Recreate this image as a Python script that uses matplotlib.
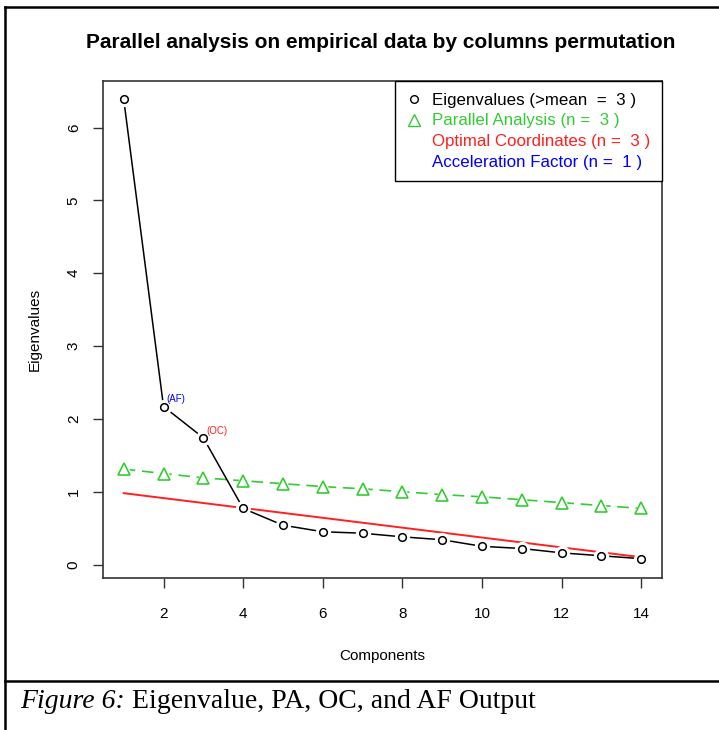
import matplotlib.pyplot as plt
from matplotlib.lines import Line2D

# dados
componentes = list(range(1, 15))
autovalores = [6.39, 2.17, 1.74, 0.77, 0.54, 0.45, 0.43, 0.38, 0.34, 0.25, 0.22, 0.16, 0.12, 0.08]
paralela = [1.31, 1.25, 1.19, 1.15, 1.11, 1.07, 1.04, 1.00, 0.96, 0.93, 0.89, 0.85, 0.81, 0.77]
oc_x = [1, 14]
oc_y = [0.98, 0.10]

legendas = ['Eigenvalues (>mean  =  3 )', 'Parallel Analysis (n =  3 )',
            'Optimal Coordinates (n =  3 )', 'Acceleration Factor (n =  1 )']
cores = ['black', '#33cc33', '#ff2020', '#0000ff']

plt.rcParams['font.family'] = ['Liberation Sans', 'DejaVu Sans']

fig = plt.figure(figsize=(7.19, 7.30), dpi=100)
ax = fig.add_axes([103 / 719, 1 - 578 / 730, 559 / 719, 497 / 730])

# linha vermelha (OC)
ax.plot(oc_x, oc_y, color=cores[2], lw=1.4, zorder=2)

# analise paralela, tipo "b" do R (linha com buracos nos pontos)
ax.plot(componentes, paralela, color=cores[1], lw=1.2, dashes=(7, 4), zorder=3)
ax.plot(componentes, paralela, ls='none', marker='^', ms=14, mfc='white', mec='none', zorder=4)
ax.plot(componentes, paralela, ls='none', marker='^', ms=9, mfc='none', mec=cores[1], mew=1.2, zorder=5)

# autovalores
ax.plot(componentes, autovalores, color='black', lw=1.1, zorder=6)
ax.plot(componentes, autovalores, ls='none', marker='o', ms=11, mfc='white', mec='none', zorder=7)
ax.plot(componentes, autovalores, ls='none', marker='o', ms=5.5, mfc='white', mec='black', mew=1.1, zorder=8)

ax.text(componentes[1] + 0.08, autovalores[1] + 0.03, '(AF)', color=cores[3], fontsize=7, va='bottom', ha='left', zorder=9)
ax.text(componentes[2] + 0.08, autovalores[2] + 0.03, '(OC)', color=cores[2], fontsize=7, va='bottom', ha='left', zorder=9)

ax.set_xlim(0.48, 14.52)
ax.set_ylim(-0.185, 6.64)
ax.set_xticks([2, 4, 6, 8, 10, 12, 14])
ax.set_yticks([0, 1, 2, 3, 4, 5, 6])
ax.tick_params(direction='out', length=7, width=1, labelsize=11, color='#333333')
ax.tick_params(axis='x', pad=14)
ax.tick_params(axis='y', pad=9)
plt.setp(ax.get_yticklabels(), rotation=90, va='center')
for s in ax.spines.values():
    s.set_color('#333333')
    s.set_linewidth(1.2)

ax.set_xlabel('Components', fontsize=11, labelpad=20)
ax.set_ylabel('Eigenvalues', fontsize=11, labelpad=18)

# legenda
alcas = [Line2D([], [], ls='none', marker='o', ms=5.5, mfc='white', mec='black'),
         Line2D([], [], ls='none', marker='^', ms=9, mfc='none', mec=cores[1]),
         Line2D([], [], ls='none'),
         Line2D([], [], ls='none')]
leg = ax.legend(alcas, legendas, loc='upper right', fancybox=False,
                edgecolor='black', framealpha=1, fontsize=12.2, labelcolor=cores,
                handlelength=0.9, handletextpad=0.6, labelspacing=0.33,
                borderpad=0.7, borderaxespad=0)
leg.get_frame().set_linewidth(1.0)

fig.text(381 / 719, 1 - 42 / 730, 'Parallel analysis on empirical data by columns permutation',
         ha='center', va='center', fontsize=15, fontweight='bold')

# moldura e legenda da figura
fig.add_artist(Line2D([5 / 719, 1], [1 - 7 / 730, 1 - 7 / 730], color='black', lw=1.8))
fig.add_artist(Line2D([5 / 719, 5 / 719], [0, 1 - 7 / 730], color='black', lw=1.8))
fig.add_artist(Line2D([5 / 719, 1], [1 - 681 / 730, 1 - 681 / 730], color='black', lw=1.8))
t1 = fig.text(20 / 719, 1 - 702 / 730, 'Figure 6:', family='Liberation Serif', style='italic',
              fontsize=20, va='center', ha='left')
fig.add_artist(plt.Annotation(' Eigenvalue, PA, OC, and AF Output', xy=(1, 0.5), xycoords=t1,
                              va='center', ha='left', family='Liberation Serif', fontsize=20))

plt.savefig('out.png')
plt.close()
